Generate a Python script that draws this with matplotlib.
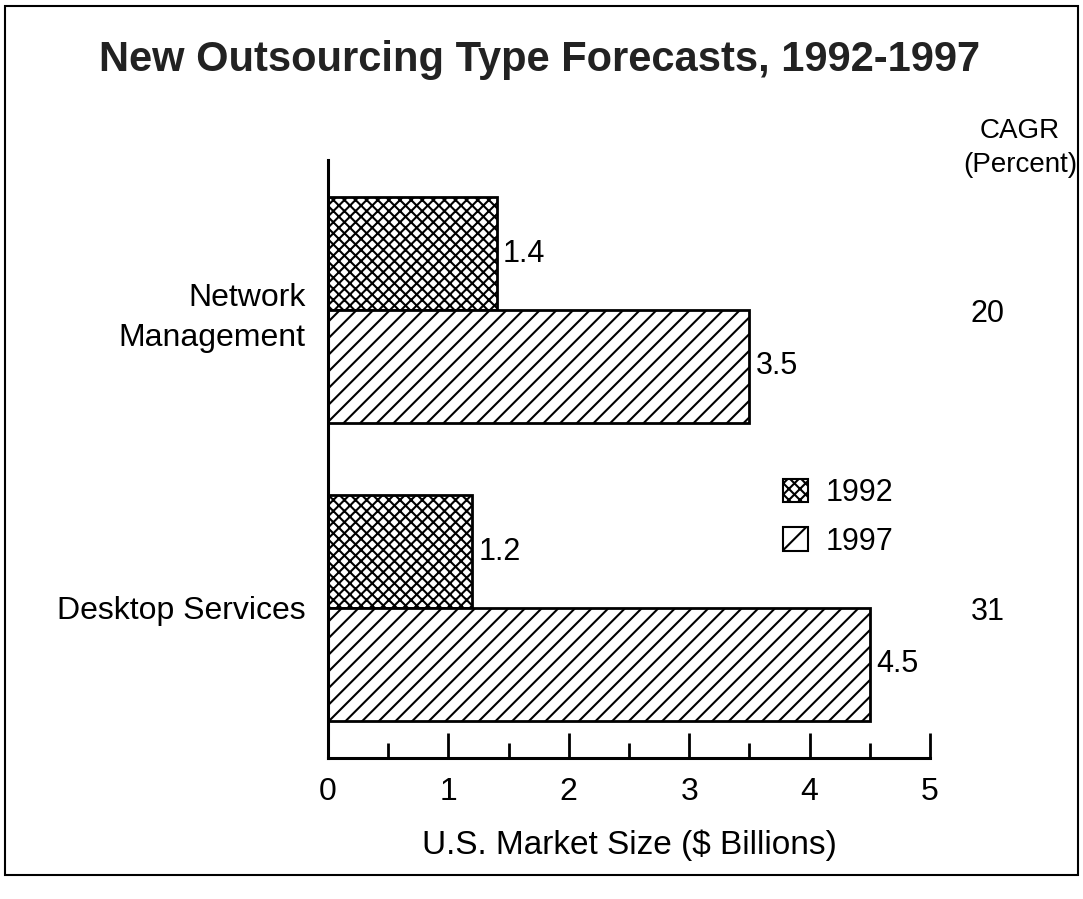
import matplotlib.pyplot as plt
from matplotlib.patches import Rectangle, Patch

plt.rcParams['font.family'] = ['Liberation Sans', 'DejaVu Sans']
plt.rcParams['hatch.linewidth'] = 1.5

# data
categories = ['Desktop Services', 'Network\nManagement']
values_1992 = [1.2, 1.4]
values_1997 = [4.5, 3.5]
cagr = ['31', '20']
years = ['1992', '1997']

fig = plt.figure(figsize=(10.83, 8.99), dpi=100)
ax = fig.add_axes([328 / 1083, 1 - 758 / 899, (930 - 328) / 1083, (758 - 160) / 899])

# bar layout (axis units)
pos = [1.5, 4.48]
h = 1.13

for i in range(len(categories)):
    ax.barh(pos[i] + h / 2, values_1992[i], height=h, color='white',
            edgecolor='black', linewidth=2, hatch='xxx')
    ax.barh(pos[i] - h / 2, values_1997[i], height=h, color='white',
            edgecolor='black', linewidth=2, hatch='//')
    ax.text(values_1992[i] + 0.05, pos[i] + h / 2, str(values_1992[i]),
            va='center', ha='left', fontsize=22)
    ax.text(values_1997[i] + 0.05, pos[i] - h / 2, str(values_1997[i]),
            va='center', ha='left', fontsize=22)

ax.set_xlim(0, 5)
ax.set_ylim(0, 5.98)
ax.set_xticks([0, 1, 2, 3, 4, 5])
ax.set_xticks([0.5, 1.5, 2.5, 3.5, 4.5], minor=True)
ax.tick_params(axis='x', which='major', direction='in', length=18, width=2,
               labelsize=23, pad=14)
ax.tick_params(axis='x', which='minor', direction='in', length=11, width=2)
ax.set_yticks(pos)
ax.set_yticklabels(categories, fontsize=23, linespacing=1.4)
ax.tick_params(axis='y', length=0, pad=16)
ax.spines['top'].set_visible(False)
ax.spines['right'].set_visible(False)
ax.spines['left'].set_linewidth(2.2)
ax.spines['bottom'].set_linewidth(2.2)
ax.set_xlabel('U.S. Market Size ($ Billions)', fontsize=24, labelpad=16)

# CAGR column
fig.text(1020 / 1083, 1 - 148 / 899, 'CAGR\n(Percent)', ha='center', va='center',
         fontsize=20, linespacing=1.45)
for i in range(len(categories)):
    y_fig = ax.transData.transform((0, pos[i]))[1] / fig.bbox.height
    fig.text(988 / 1083, y_fig - 0.004, cagr[i], ha='center', va='center', fontsize=22)

# title
fig.text(540 / 1083, 1 - 60 / 899, 'New Outsourcing Type Forecasts, 1992-1997',
         ha='center', va='center', fontsize=30, fontweight='bold', color='#222222')

# legend
handles = [Patch(facecolor='white', edgecolor='black', hatch='xxx', linewidth=1.5),
           Patch(facecolor='white', edgecolor='black', hatch='/', linewidth=1.5)]
fig.legend(handles, years, loc='upper left', bbox_to_anchor=(768 / 1083, 1 - 463 / 899),
           frameon=False, fontsize=22, handlelength=0.8, handleheight=0.8,
           handletextpad=0.6, labelspacing=0.6, borderpad=0)

# outer frame
fig.patches.append(Rectangle((5 / 1083, 1 - 875 / 899), 1073 / 1083, 869 / 899,
                             transform=fig.transFigure, fill=False,
                             edgecolor='black', linewidth=1.5))

fig.savefig('out.png', dpi=100)
